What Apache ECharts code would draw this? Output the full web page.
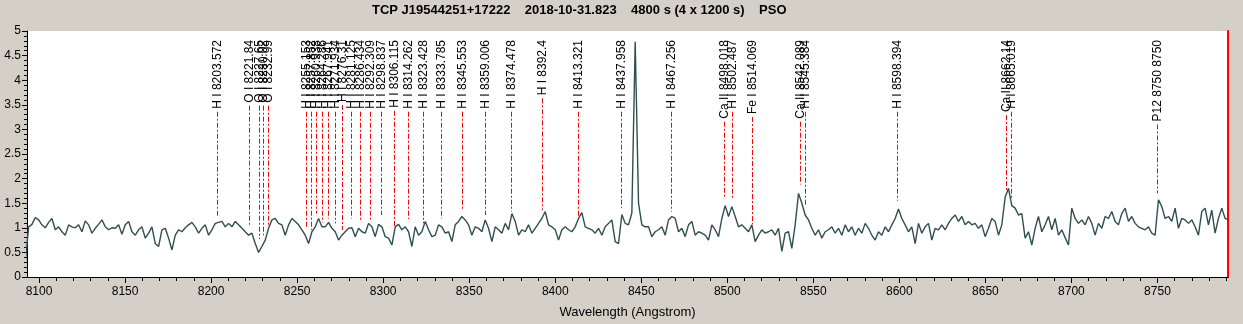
<!DOCTYPE html>
<html>
<head>
<meta charset="utf-8">
<script src="https://cdn.jsdelivr.net/npm/echarts@6/dist/echarts.min.js"></script>
<style>
html,body{margin:0;padding:0;background:#d4d0c8;}
#chart{width:1243px;height:324px;}
</style>
</head>
<body>
<div id="chart"></div>
<script>
// ---- data ----
const titleText = 'TCP J19544251+17222    2018-10-31.823    4800 s (4 x 1200 s)    PSO';
const xAxisName = 'Wavelength (Angstrom)';
const xMin = 8093, xMax = 8791;
const xTickValues = [8100,8150,8200,8250,8300,8350,8400,8450,8500,8550,8600,8650,8700,8750];
const yMin = 0, yMax = 5, yInterval = 0.5;

// spectrum sampling grid (Angstrom)
const waveStart = 8092.0;
const waveStep = 1.937;
// flux, one value per sample
const flux = [
  0.28,1.02,1.07,1.21,1.16,1.06,1.00,1.11,1.19,0.96,
  1.02,0.92,0.85,1.06,1.02,1.00,1.06,0.92,1.14,1.06,
  0.89,0.99,1.07,1.16,1.02,0.96,1.00,0.99,1.06,0.87,
  1.06,1.13,0.92,0.85,0.96,1.02,0.79,0.89,1.02,0.68,
  0.62,0.96,0.99,0.79,0.55,0.85,0.96,0.92,1.00,1.06,
  1.11,1.02,0.89,0.99,1.06,0.85,0.96,1.09,1.11,1.13,
  1.02,1.09,1.02,1.13,1.06,0.99,0.92,0.85,0.89,0.68,
  0.50,0.62,0.75,0.99,1.16,1.19,1.09,1.06,0.85,1.06,
  1.19,1.13,1.06,0.96,0.85,0.68,0.92,1.02,1.19,1.02,
  1.02,1.11,0.99,0.92,0.75,0.85,0.92,0.99,1.00,0.82,
  0.99,0.92,0.89,1.09,1.02,0.82,1.07,1.02,0.82,0.79,
  0.65,1.02,1.07,0.96,1.02,0.92,0.62,1.02,0.85,0.92,
  1.13,0.96,0.82,0.85,1.06,1.02,0.89,0.92,0.72,1.06,
  1.13,1.23,1.16,1.06,0.85,1.02,0.99,0.92,1.16,0.99,
  0.72,1.02,0.96,0.89,1.09,0.96,1.29,1.13,0.85,0.96,
  0.92,1.06,0.89,0.99,1.09,1.19,1.33,1.06,1.02,0.96,
  0.75,0.96,1.02,0.96,0.92,1.02,1.19,1.31,1.02,0.99,
  0.96,0.89,0.99,0.85,1.02,1.09,1.16,0.72,0.68,1.27,
  1.09,1.06,1.30,4.78,1.50,1.06,1.02,1.02,0.82,0.92,
  0.96,1.02,0.85,1.16,1.23,1.19,0.92,0.99,0.82,1.06,
  1.13,0.85,0.92,0.89,0.85,0.75,1.06,0.96,0.82,1.19,
  1.45,1.23,1.43,1.23,1.02,1.06,0.99,0.92,1.06,0.72,
  0.85,0.96,0.89,0.92,0.96,0.85,0.99,0.52,0.89,0.92,
  0.58,1.06,1.70,1.50,1.26,1.16,0.99,0.85,0.96,0.79,
  0.92,0.96,1.02,0.89,0.99,0.85,1.06,0.92,1.02,0.85,
  0.99,0.89,1.09,0.99,0.85,0.75,0.92,0.85,1.02,0.92,
  1.06,1.19,1.38,1.19,1.06,0.92,1.02,0.68,1.09,0.89,
  1.02,1.09,0.75,0.99,0.96,1.06,0.96,1.09,1.19,1.26,
  1.13,1.23,1.06,1.13,1.06,1.09,0.99,1.06,0.82,0.99,
  1.19,1.13,0.85,1.06,1.62,1.80,1.45,1.40,1.26,1.29,
  0.79,0.92,0.65,0.99,1.23,0.92,1.06,1.23,0.96,1.19,
  0.85,0.96,0.80,0.65,1.40,1.19,1.09,1.16,1.06,1.23,
  1.09,0.85,1.09,0.99,1.23,1.19,1.33,1.13,1.06,1.29,
  1.40,1.13,1.23,1.09,1.02,0.99,0.96,1.02,0.89,0.85,
  1.57,1.43,1.19,1.23,1.13,1.40,0.99,1.19,1.16,1.09,
  1.16,1.02,0.85,1.33,1.40,1.06,1.36,0.89,1.19,1.40,
  1.19,1.16
];

// identified lines
const lineWaves = [8203.572,8221.84,8227.65,8230.02,8232.99,
  8255.153,8257.852,8260.938,8264.286,8267.941,8271.934,8276.31,8281.125,8286.434,8292.309,
  8298.837,8306.115,8314.262,8323.428,8333.785,8345.553,8359.006,8374.478,8392.4,8413.321,
  8437.958,8467.256,8498.018,8502.487,8514.069,8542.089,8545.384,8598.394,8662.14,8665.019,8750];
const lineLabels = ['H I 8203.572','O I 8221.84','O I 8227.65','O I 8230.02','O I 8232.99',
  'H I 8255.153','H I 8257.852','H I 8260.938','H I 8264.286','H I 8267.941','H I 8271.934','H I 8276.31','H I 8281.125','H I 8286.434','H I 8292.309',
  'H I 8298.837','H I 8306.115','H I 8314.262','H I 8323.428','H I 8333.785','H I 8345.553','H I 8359.006','H I 8374.478','H I 8392.4','H I 8413.321',
  'H I 8437.958','H I 8467.256','Ca II 8498.018','H I 8502.487','Fe I 8514.069','Ca II 8542.089','H I 8545.384','H I 8598.394','Ca II 8662.14','H I 8665.019','P12 8750 8750'];
// flux level where each marker's dashed lead ends
const lineTops = [1.23,1.02,0.77,0.85,1.02,
  1.02,0.96,1.29,1.11,1.19,1.09,0.96,1.19,1.13,1.17,
  1.26,1.00,1.18,1.09,1.19,1.35,1.26,1.33,1.36,1.20,
  1.40,1.33,1.61,1.60,1.07,1.88,1.45,1.55,1.75,1.60,1.70];

// ---- build ----
const FONT = '"Liberation Sans", Arial, Helvetica, sans-serif';
const LABEL_FONT = '12px ' + FONT;
const specData = flux.map((f, i) => [waveStart + i * waveStep, f]);
const markData = lineWaves.map((w, i) => [w, lineTops[i], i]);
const minorTicks = [];
for (let v = Math.ceil(xMin / 10) * 10; v <= xMax; v += 10) minorTicks.push(v);

const measureCtx = document.createElement('canvas').getContext('2d');
measureCtx.font = LABEL_FONT;

function renderLineMark(params, api) {
  const wave = api.value(0), top = api.value(1), idx = api.value(2);
  const end = api.coord([wave, top]);
  const plotTop = api.coord([wave, yMax])[1];
  const x = Math.round(end[0]) + 0.5;
  const textTop = plotTop + 9;
  const label = lineLabels[idx];
  const w = measureCtx.measureText(label).width;
  const dashStart = textTop + w + 3;
  return {
    type: 'group',
    children: [
      { type: 'text', x: x, y: textTop, rotation: Math.PI / 2,
        style: { text: label, font: LABEL_FONT, fill: '#000', align: 'right', verticalAlign: 'middle' } },
      { type: 'line', shape: { x1: x, y1: dashStart, x2: x, y2: end[1] },
        style: { stroke: '#ff0000', lineWidth: 1, lineDash: [5, 2, 2, 2] } }
    ]
  };
}

const gridBox = { left: 27, right: 15, top: 31, bottom: 47 };

const chart = echarts.init(document.getElementById('chart'), null, { renderer: 'canvas' });
chart.setOption({
  animation: false,
  backgroundColor: '#d4d0c8',
  title: {
    text: titleText, left: 372, top: 4, padding: 0,
    textStyle: { fontFamily: FONT, fontSize: 13, fontWeight: 'bold', color: '#000' }
  },
  grid: [
    Object.assign({ show: true, backgroundColor: '#ffffff', borderWidth: 0 }, gridBox),
    Object.assign({ show: false }, gridBox)
  ],
  xAxis: [
    {
      gridIndex: 0, type: 'value', min: xMin, max: xMax, position: 'bottom',
      name: xAxisName, nameLocation: 'middle', nameGap: 29,
      nameTextStyle: { fontFamily: FONT, fontSize: 13, color: '#000' },
      axisLine: { show: true, lineStyle: { color: '#000', width: 1 } },
      axisTick: { show: true, customValues: xTickValues, length: 6, lineStyle: { color: '#000' } },
      axisLabel: { show: true, customValues: xTickValues, formatter: v => String(v),
        fontFamily: FONT, fontSize: 12, color: '#000', margin: 9 },
      splitLine: { show: false }
    },
    {
      gridIndex: 0, type: 'value', min: xMin, max: xMax, position: 'top',
      axisLine: { show: true, lineStyle: { color: '#000', width: 1 } },
      axisTick: { show: false }, axisLabel: { show: false }, splitLine: { show: false }
    },
    {
      gridIndex: 1, type: 'value', min: xMin, max: xMax, position: 'bottom',
      axisLine: { show: false },
      axisTick: { show: true, customValues: minorTicks, length: 4, lineStyle: { color: '#000' } },
      axisLabel: { show: false },
      splitLine: { show: false }
    }
  ],
  yAxis: [
    {
      gridIndex: 0, type: 'value', min: yMin, max: yMax, interval: yInterval, position: 'left',
      axisLine: { show: true, lineStyle: { color: '#000', width: 1 } },
      axisTick: { show: true, length: 5, lineStyle: { color: '#000' } },
      minorTick: { show: true, splitNumber: 5, length: 3, lineStyle: { color: '#000' } },
      axisLabel: { fontFamily: FONT, fontSize: 12, color: '#000', margin: 6 },
      splitLine: { show: false }, minorSplitLine: { show: false }
    },
    {
      gridIndex: 0, type: 'value', min: yMin, max: yMax, position: 'right',
      axisLine: { show: true, lineStyle: { color: '#ff0000', width: 2 } },
      axisTick: { show: false }, axisLabel: { show: false }, splitLine: { show: false }
    },
    {
      gridIndex: 1, type: 'value', min: yMin, max: yMax, position: 'left', show: false
    }
  ],
  series: [
    {
      type: 'custom', xAxisIndex: 0, yAxisIndex: 0, z: 3,
      renderItem: renderLineMark, data: markData, silent: true
    },
    {
      type: 'line', xAxisIndex: 0, yAxisIndex: 0, z: 4,
      data: specData, showSymbol: false, symbol: 'none', clip: true,
      lineStyle: { color: '#2f4f4f', width: 1.4 }
    }
  ]
});
</script>
</body>
</html>
